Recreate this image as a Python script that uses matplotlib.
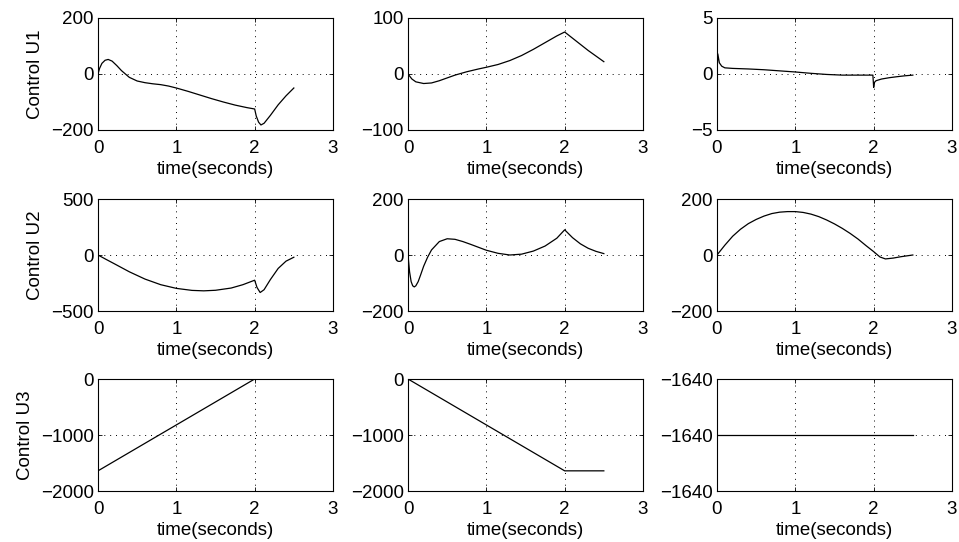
import numpy as np
import matplotlib
matplotlib.use("Agg")
import matplotlib.pyplot as plt

plt.rcParams['font.family'] = ['Liberation Sans', 'DejaVu Sans']
plt.rcParams['font.size'] = 13.5

# row 1: Control U1
t_u1a = [0, 0.02, 0.05, 0.09, 0.13, 0.18, 0.24, 0.3, 0.4, 0.5, 0.6, 0.7, 0.8, 0.9, 1.0, 1.15, 1.3, 1.45, 1.6, 1.75, 1.9, 2.0,
         2.02, 2.05, 2.08, 2.12, 2.2, 2.3, 2.4, 2.5]
u1a = [0, 20, 38, 49, 52, 46, 30, 12, -12, -25, -31, -35, -38, -43, -50, -62, -75, -88, -100, -111, -120, -125,
       -150, -172, -182, -176, -148, -110, -78, -50]
t_u1b = [0, 0.05, 0.1, 0.2, 0.3, 0.4, 0.5, 0.6, 0.75, 0.9, 1.0, 1.15, 1.3, 1.45, 1.6, 1.75, 1.9, 2.0, 2.1, 2.2, 2.3, 2.4, 2.5]
u1b = [0, -9, -14, -17, -16, -12, -7, -2, 4, 9, 12, 17, 24, 33, 44, 56, 68, 75, 64, 53, 42, 32, 22]
t_u1c = [0, 0.01, 0.03, 0.06, 0.1, 0.2, 0.4, 0.6, 0.8, 1.0, 1.2, 1.4, 1.6, 1.8, 1.99, 2.0, 2.01, 2.03, 2.1, 2.2, 2.3, 2.4, 2.5]
u1c = [0, 1.8, 1.0, 0.7, 0.55, 0.5, 0.45, 0.38, 0.28, 0.18, 0.06, -0.04, -0.1, -0.1, -0.1, -1.2, -0.75, -0.6, -0.45, -0.33, -0.24, -0.16, -0.1]

# row 2: Control U2
t_u2a = [0, 0.1, 0.2, 0.4, 0.6, 0.8, 1.0, 1.2, 1.35, 1.5, 1.7, 1.85, 2.0, 2.03, 2.07, 2.12, 2.2, 2.3, 2.4, 2.5]
u2a = [0, -38, -75, -150, -215, -265, -298, -316, -320, -315, -295, -265, -225, -290, -335, -310, -220, -120, -55, -20]
t_u2b = [0, 0.02, 0.04, 0.06, 0.08, 0.1, 0.13, 0.16, 0.2, 0.25, 0.3, 0.4, 0.5, 0.6, 0.7, 0.8, 1.0, 1.15, 1.3, 1.45, 1.6, 1.75, 1.9, 2.0,
         2.1, 2.2, 2.3, 2.4, 2.5]
u2b = [0, -60, -95, -110, -114, -110, -95, -72, -40, -8, 18, 48, 58, 56, 48, 38, 17, 6, 0, 3, 14, 32, 60, 90, 62, 40, 24, 13, 5]
t_u2c = [0, 0.1, 0.2, 0.3, 0.4, 0.5, 0.6, 0.7, 0.8, 0.9, 1.0, 1.1, 1.2, 1.3, 1.4, 1.5, 1.6, 1.7, 1.8, 1.9, 2.0,
         2.08, 2.15, 2.25, 2.35, 2.5]
u2c = [0, 35, 67, 92, 112, 127, 139, 148, 153, 155, 155, 152, 146, 137, 125, 111, 95, 77, 57, 34, 12, -7, -14, -11, -6, 0]

# row 3: Control U3
t_u3a = [0, 2.0, 2.5]
u3a = [-1640, 0, 0]
t_u3b = [0, 2.0, 2.5]
u3b = [0, -1640, -1640]
t_u3c = [0, 2.5]
u3c = [-1640, -1640]

series = [
    [(t_u1a, u1a), (t_u1b, u1b), (t_u1c, u1c)],
    [(t_u2a, u2a), (t_u2b, u2b), (t_u2c, u2c)],
    [(t_u3a, u3a), (t_u3b, u3b), (t_u3c, u3c)],
]
ylims = [[(-200, 200), (-100, 100), (-5, 5)],
         [(-500, 500), (-200, 200), (-200, 200)],
         [(-2000, 0), (-2000, 0), (-1640.001, -1639.999)]]
row_labels = ['Control U1', 'Control U2', 'Control U3']
xticks = [0, 1, 2, 3]

W, H = 959, 542
fig = plt.figure(figsize=(W / 100, H / 100), dpi=100)

lefts = [98, 408, 717]
tops = [18, 199, 379]
aw, ah = 235, 112

# matlab-ish labels with a real minus sign
fmt = matplotlib.ticker.FuncFormatter(lambda v, p: ('%g' % v).replace('-', '\u2212'))

for r in range(3):
    for c in range(3):
        ax = fig.add_axes([lefts[c] / W, (H - tops[r] - ah) / H, aw / W, ah / H])
        t, v = series[r][c]
        ax.plot(t, v, color='black', lw=0.9)
        ax.set_xlim(0, 3)
        lo, hi = ylims[r][c]
        ax.set_ylim(lo, hi)
        ax.set_xticks(xticks)
        ax.set_yticks([lo, (lo + hi) / 2, hi])
        if r == 2 and c == 2:
            ax.set_yticklabels(['\u22121640'] * 3)
        else:
            ax.yaxis.set_major_formatter(fmt)
        ax.grid(True, color='black', linestyle=(0, (1, 5)), linewidth=0.7)
        ax.tick_params(direction='in', top=True, right=True, length=3, width=0.6, labelsize=13.5)
        ax.tick_params(axis='x', pad=7)
        ax.tick_params(axis='y', pad=3)
        for s in ax.spines.values():
            s.set_linewidth(0.8)
        ax.set_xlabel('time(seconds)', fontsize=13.5, labelpad=3)
        if c == 0:
            ax.set_ylabel(row_labels[r], fontsize=13.5, labelpad=5)

plt.savefig('out.png', dpi=100)
